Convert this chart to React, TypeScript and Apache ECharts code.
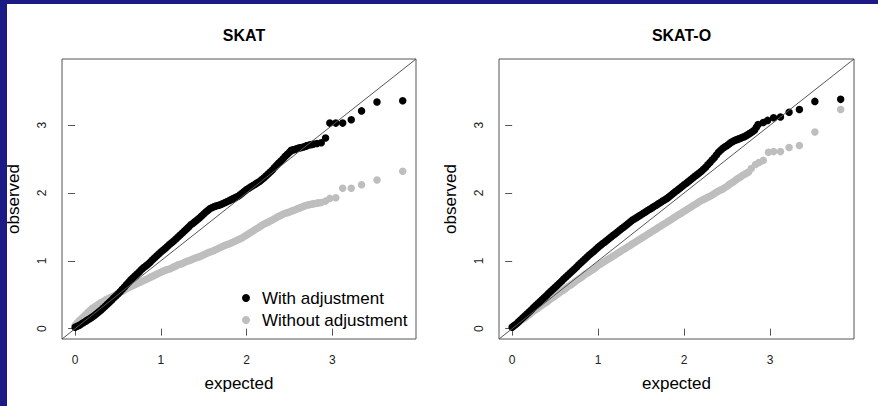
import React, { useEffect, useRef } from "react";
import * as echarts from "echarts";

// SKAT panel – with adjustment (black)  [expected, observed]
const skatAdj: number[][] = [
  [0.0, 0.02], [0.025, 0.035], [0.05, 0.05], [0.075, 0.07], [0.1, 0.09], [0.125, 0.11], [0.15, 0.13], [0.175, 0.15],
  [0.2, 0.17], [0.225, 0.195], [0.25, 0.22], [0.275, 0.245], [0.3, 0.27], [0.325, 0.3], [0.35, 0.33], [0.375, 0.36],
  [0.4, 0.39], [0.425, 0.42], [0.45, 0.45], [0.475, 0.48], [0.5, 0.51], [0.525, 0.545], [0.55, 0.58], [0.575, 0.615],
  [0.6, 0.65], [0.625, 0.685], [0.65, 0.72], [0.675, 0.75], [0.7, 0.78], [0.725, 0.81], [0.75, 0.84], [0.775, 0.87],
  [0.8, 0.9], [0.825, 0.925], [0.85, 0.95], [0.875, 0.98], [0.9, 1.01], [0.925, 1.04], [0.95, 1.07], [0.975, 1.1],
  [1.0, 1.13], [1.025, 1.155], [1.05, 1.18], [1.075, 1.21], [1.1, 1.24], [1.125, 1.265], [1.15, 1.29], [1.175, 1.32],
  [1.2, 1.35], [1.225, 1.38], [1.25, 1.41], [1.275, 1.44], [1.3, 1.47], [1.325, 1.5], [1.35, 1.53], [1.375, 1.555],
  [1.4, 1.58], [1.425, 1.605], [1.45, 1.63], [1.475, 1.66], [1.5, 1.69], [1.525, 1.72], [1.55, 1.745], [1.575, 1.77],
  [1.6, 1.785], [1.625, 1.8], [1.65, 1.81], [1.675, 1.82], [1.7, 1.83], [1.725, 1.845], [1.75, 1.86], [1.775, 1.875],
  [1.8, 1.89], [1.825, 1.905], [1.85, 1.92], [1.875, 1.935], [1.9, 1.95], [1.925, 1.975], [1.95, 2.0], [1.975, 2.025],
  [2.0, 2.05], [2.025, 2.07], [2.05, 2.09], [2.075, 2.11], [2.1, 2.13], [2.125, 2.15], [2.15, 2.17], [2.175, 2.195],
  [2.2, 2.22], [2.225, 2.25], [2.25, 2.28], [2.275, 2.31], [2.3, 2.34], [2.325, 2.375], [2.35, 2.41], [2.375, 2.44],
  [2.4, 2.47], [2.425, 2.505], [2.45, 2.54], [2.475, 2.57], [2.5, 2.6], [2.52, 2.63], [2.54, 2.635], [2.56, 2.64],
  [2.58, 2.65], [2.6, 2.66], [2.62, 2.665], [2.64, 2.67], [2.67, 2.68], [2.69, 2.69], [2.71, 2.7], [2.74, 2.71],
  [2.76, 2.715], [2.78, 2.72], [2.82, 2.73], [2.87, 2.74],
  [2.92, 2.81], [2.97, 3.03], [3.04, 3.03], [3.12, 3.03], [3.22, 3.08], [3.34, 3.21], [3.52, 3.34], [3.82, 3.36],
];

// SKAT panel – without adjustment (gray)
const skatNoAdj: number[][] = [
  [0.0, 0.05], [0.025, 0.085], [0.05, 0.12], [0.075, 0.15], [0.1, 0.18], [0.125, 0.21], [0.15, 0.24], [0.175, 0.27],
  [0.2, 0.3], [0.225, 0.32], [0.25, 0.34], [0.275, 0.36], [0.3, 0.38], [0.325, 0.4], [0.35, 0.42], [0.375, 0.435],
  [0.4, 0.45], [0.425, 0.465], [0.45, 0.48], [0.475, 0.5], [0.5, 0.52], [0.525, 0.535], [0.55, 0.55], [0.575, 0.57],
  [0.6, 0.59], [0.625, 0.605], [0.65, 0.62], [0.675, 0.635], [0.7, 0.65], [0.725, 0.665], [0.75, 0.68], [0.775, 0.695],
  [0.8, 0.71], [0.825, 0.725], [0.85, 0.74], [0.875, 0.755], [0.9, 0.77], [0.925, 0.785], [0.95, 0.8], [0.975, 0.815],
  [1.0, 0.83], [1.025, 0.845], [1.05, 0.86], [1.075, 0.87], [1.1, 0.88], [1.125, 0.895], [1.15, 0.91], [1.175, 0.925],
  [1.2, 0.94], [1.225, 0.95], [1.25, 0.96], [1.275, 0.975], [1.3, 0.99], [1.325, 1.0], [1.35, 1.01], [1.375, 1.025],
  [1.4, 1.04], [1.425, 1.05], [1.45, 1.06], [1.475, 1.075], [1.5, 1.09], [1.525, 1.105], [1.55, 1.12], [1.575, 1.13],
  [1.6, 1.14], [1.625, 1.155], [1.65, 1.17], [1.675, 1.185], [1.7, 1.2], [1.725, 1.215], [1.75, 1.23], [1.775, 1.24],
  [1.8, 1.25], [1.825, 1.265], [1.85, 1.28], [1.875, 1.295], [1.9, 1.31], [1.925, 1.325], [1.95, 1.34], [1.975, 1.36],
  [2.0, 1.38], [2.025, 1.4], [2.05, 1.42], [2.075, 1.44], [2.1, 1.46], [2.125, 1.48], [2.15, 1.5], [2.175, 1.52],
  [2.2, 1.54], [2.225, 1.555], [2.25, 1.57], [2.275, 1.585], [2.3, 1.6], [2.325, 1.62], [2.35, 1.64], [2.375, 1.655],
  [2.4, 1.67], [2.425, 1.685], [2.45, 1.7], [2.475, 1.71], [2.5, 1.72], [2.52, 1.73], [2.54, 1.74], [2.56, 1.75],
  [2.58, 1.76], [2.6, 1.77], [2.62, 1.78], [2.64, 1.79], [2.66, 1.8], [2.68, 1.81], [2.7, 1.82], [2.72, 1.825],
  [2.74, 1.83], [2.76, 1.835], [2.78, 1.84], [2.8, 1.845], [2.82, 1.85], [2.845, 1.855], [2.87, 1.86],
  [2.92, 1.88], [2.97, 1.92], [3.04, 1.93], [3.12, 2.07], [3.22, 2.07], [3.34, 2.12], [3.52, 2.19], [3.82, 2.32],
];

// SKAT-O panel – with adjustment (black)
const skatOAdj: number[][] = [
  [0.0, 0.02], [0.025, 0.045], [0.05, 0.07], [0.075, 0.1], [0.1, 0.13], [0.125, 0.16], [0.15, 0.19], [0.175, 0.22],
  [0.2, 0.25], [0.225, 0.28], [0.25, 0.31], [0.275, 0.34], [0.3, 0.37], [0.325, 0.4], [0.35, 0.43], [0.375, 0.46],
  [0.4, 0.49], [0.425, 0.52], [0.45, 0.55], [0.475, 0.58], [0.5, 0.61], [0.525, 0.64], [0.55, 0.67], [0.575, 0.7],
  [0.6, 0.73], [0.625, 0.76], [0.65, 0.79], [0.675, 0.82], [0.7, 0.85], [0.725, 0.88], [0.75, 0.91], [0.775, 0.94],
  [0.8, 0.97], [0.825, 1.0], [0.85, 1.03], [0.875, 1.06], [0.9, 1.09], [0.925, 1.115], [0.95, 1.14], [0.975, 1.17],
  [1.0, 1.2], [1.025, 1.225], [1.05, 1.25], [1.075, 1.275], [1.1, 1.3], [1.125, 1.325], [1.15, 1.35], [1.175, 1.375],
  [1.2, 1.4], [1.225, 1.425], [1.25, 1.45], [1.275, 1.475], [1.3, 1.5], [1.325, 1.525], [1.35, 1.55], [1.375, 1.575],
  [1.4, 1.6], [1.425, 1.62], [1.45, 1.64], [1.475, 1.66], [1.5, 1.68], [1.525, 1.7], [1.55, 1.72], [1.575, 1.74],
  [1.6, 1.76], [1.625, 1.78], [1.65, 1.8], [1.675, 1.82], [1.7, 1.84], [1.725, 1.86], [1.75, 1.88], [1.775, 1.9],
  [1.8, 1.92], [1.825, 1.945], [1.85, 1.97], [1.875, 1.995], [1.9, 2.02], [1.925, 2.045], [1.95, 2.07], [1.975, 2.095],
  [2.0, 2.12], [2.025, 2.145], [2.05, 2.17], [2.075, 2.195], [2.1, 2.22], [2.125, 2.245], [2.15, 2.27], [2.175, 2.295],
  [2.2, 2.32], [2.225, 2.35], [2.25, 2.38], [2.275, 2.415], [2.3, 2.45], [2.325, 2.485], [2.35, 2.52], [2.375, 2.56],
  [2.4, 2.6], [2.425, 2.63], [2.45, 2.66], [2.475, 2.68], [2.5, 2.7], [2.52, 2.72], [2.54, 2.74], [2.56, 2.755],
  [2.58, 2.77], [2.6, 2.78], [2.62, 2.79], [2.64, 2.8], [2.66, 2.81], [2.68, 2.82], [2.7, 2.83], [2.72, 2.845],
  [2.74, 2.86], [2.76, 2.875], [2.78, 2.89], [2.8, 2.91], [2.82, 2.93], [2.84, 2.97], [2.86, 3.01],
  [2.92, 3.04], [2.97, 3.07], [3.04, 3.11], [3.12, 3.12], [3.22, 3.19], [3.34, 3.23], [3.52, 3.35], [3.82, 3.38],
];

// SKAT-O panel – without adjustment (gray)
const skatONoAdj: number[][] = [
  [0.0, 0.03], [0.025, 0.05], [0.05, 0.07], [0.075, 0.095], [0.1, 0.12], [0.125, 0.14], [0.15, 0.16], [0.175, 0.185],
  [0.2, 0.21], [0.225, 0.235], [0.25, 0.26], [0.275, 0.28], [0.3, 0.3], [0.325, 0.325], [0.35, 0.35], [0.375, 0.37],
  [0.4, 0.39], [0.425, 0.415], [0.45, 0.44], [0.475, 0.46], [0.5, 0.48], [0.525, 0.505], [0.55, 0.53], [0.575, 0.55],
  [0.6, 0.57], [0.625, 0.595], [0.65, 0.62], [0.675, 0.64], [0.7, 0.66], [0.725, 0.685], [0.75, 0.71], [0.775, 0.73],
  [0.8, 0.75], [0.825, 0.775], [0.85, 0.8], [0.875, 0.82], [0.9, 0.84], [0.925, 0.86], [0.95, 0.88], [0.975, 0.905],
  [1.0, 0.93], [1.025, 0.95], [1.05, 0.97], [1.075, 0.99], [1.1, 1.01], [1.125, 1.03], [1.15, 1.05], [1.175, 1.07],
  [1.2, 1.09], [1.225, 1.11], [1.25, 1.13], [1.275, 1.15], [1.3, 1.17], [1.325, 1.19], [1.35, 1.21], [1.375, 1.23],
  [1.4, 1.25], [1.425, 1.27], [1.45, 1.29], [1.475, 1.31], [1.5, 1.33], [1.525, 1.35], [1.55, 1.37], [1.575, 1.39],
  [1.6, 1.41], [1.625, 1.43], [1.65, 1.45], [1.675, 1.47], [1.7, 1.49], [1.725, 1.51], [1.75, 1.53], [1.775, 1.55],
  [1.8, 1.57], [1.825, 1.59], [1.85, 1.61], [1.875, 1.63], [1.9, 1.65], [1.925, 1.67], [1.95, 1.69], [1.975, 1.71],
  [2.0, 1.73], [2.025, 1.75], [2.05, 1.77], [2.075, 1.79], [2.1, 1.81], [2.125, 1.83], [2.15, 1.85], [2.175, 1.87],
  [2.2, 1.89], [2.225, 1.905], [2.25, 1.92], [2.275, 1.935], [2.3, 1.95], [2.325, 1.97], [2.35, 1.99], [2.375, 2.01],
  [2.4, 2.03], [2.425, 2.045], [2.45, 2.06], [2.475, 2.08], [2.5, 2.1], [2.52, 2.12], [2.54, 2.14], [2.56, 2.155],
  [2.58, 2.17], [2.6, 2.19], [2.62, 2.21], [2.64, 2.225], [2.66, 2.24], [2.68, 2.26], [2.71, 2.28], [2.73, 2.295],
  [2.75, 2.31], [2.78, 2.36], [2.83, 2.42], [2.87, 2.45], [2.92, 2.48],
  [2.98, 2.6], [3.04, 2.61], [3.12, 2.61], [3.22, 2.67], [3.34, 2.7], [3.52, 2.9], [3.82, 3.23],
];

const panelTitles = ["SKAT", "SKAT-O"];
const seriesNames = ["With adjustment", "Without adjustment"];
const tickValues = [0, 1, 2, 3];
const axisMin = -0.153;
const axisMax = 3.975;

const FONT = "Liberation Sans, Arial, Helvetica, sans-serif";

export default function App() {
  const ref = useRef<HTMLDivElement>(null);

  useEffect(() => {
    if (!ref.current) return;
    const chart = echarts.init(ref.current, undefined, { renderer: "svg" });

    const grids = [
      { left: 62, top: 59, width: 354, height: 280 },
      { left: 499, top: 59, width: 355, height: 280 },
    ];
    const centers = [239, 676.5];

    const xAxes = grids.map((_, i) => ({
      type: "value",
      gridIndex: i,
      min: axisMin,
      max: axisMax,
      name: "expected",
      nameLocation: "middle",
      nameGap: 36,
      nameTextStyle: { fontSize: 17, color: "#000", fontFamily: FONT },
      axisLine: { show: false },
      splitLine: { show: false },
      axisTick: { show: true, length: 7, customValues: tickValues, lineStyle: { color: "#555" } },
      axisLabel: { customValues: tickValues, fontSize: 12, color: "#222", margin: 15, fontFamily: FONT },
    }));
    const yAxes = grids.map((_, i) => ({
      type: "value",
      gridIndex: i,
      min: axisMin,
      max: axisMax,
      name: "observed",
      nameLocation: "middle",
      nameRotate: 90,
      nameGap: 40,
      nameTextStyle: { fontSize: 17, color: "#000", fontFamily: FONT },
      axisLine: { show: false },
      splitLine: { show: false },
      axisTick: { show: true, length: 7, customValues: tickValues, lineStyle: { color: "#555" } },
      axisLabel: { customValues: tickValues, fontSize: 12, color: "#222", margin: 14, rotate: 90, fontFamily: FONT },
    }));

    const panels = [
      [skatAdj, skatNoAdj],
      [skatOAdj, skatONoAdj],
    ];
    const series: any[] = [];
    panels.forEach((p, i) => {
      series.push({
        type: "scatter",
        name: seriesNames[1],
        xAxisIndex: i,
        yAxisIndex: i,
        data: p[1],
        symbolSize: 7.5,
        itemStyle: { color: "#bebebe", opacity: 1 },
        silent: true,
        z: 2,
      });
      series.push({
        type: "scatter",
        name: seriesNames[0],
        xAxisIndex: i,
        yAxisIndex: i,
        data: p[0],
        symbolSize: 7.5,
        itemStyle: { color: "#000", opacity: 1 },
        silent: true,
        z: 3,
      });
      series.push({
        type: "line",
        xAxisIndex: i,
        yAxisIndex: i,
        data: [
          [axisMin, axisMin],
          [axisMax, axisMax],
        ],
        symbol: "none",
        lineStyle: { color: "#555", width: 1 },
        silent: true,
        z: 4,
      });
    });

    chart.setOption({
      animation: false,
      backgroundColor: "#fff",
      title: panelTitles.map((t, i) => ({
        text: t,
        left: centers[i],
        top: 22,
        textAlign: "center",
        textStyle: { fontSize: 16, fontWeight: "bold", color: "#000", fontFamily: FONT },
      })),
      legend: {
        data: seriesNames,
        orient: "vertical",
        left: 237,
        top: 283,
        icon: "circle",
        itemWidth: 22,
        itemHeight: 8,
        itemGap: 2,
        selectedMode: false,
        textStyle: { fontSize: 17, color: "#000", fontFamily: FONT, lineHeight: 20 },
      },
      grid: grids.map((g) => ({ ...g, show: true, borderColor: "#555", borderWidth: 1, backgroundColor: "transparent" })),
      xAxis: xAxes,
      yAxis: yAxes,
      series,
      graphic: [
        { type: "rect", left: 0, top: 0, shape: { width: 7, height: 406 }, style: { fill: "#1c1a84" }, silent: true },
        { type: "rect", left: 0, top: 0, shape: { width: 878, height: 4 }, style: { fill: "#1c1a84" }, silent: true },
      ],
    });

    return () => chart.dispose();
  }, []);

  return (
    <div
      ref={ref}
      style={{ position: "absolute", left: 0, top: 0, width: 878, height: 406, background: "#fff" }}
    />
  );
}
